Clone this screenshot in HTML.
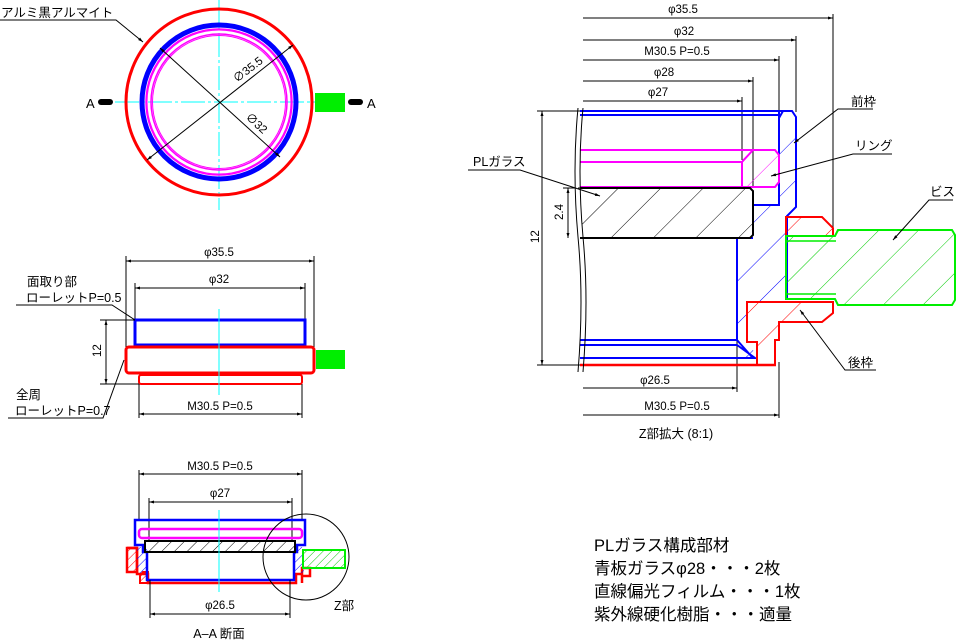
<!DOCTYPE html>
<html><head><meta charset="utf-8"><style>
html,body{margin:0;padding:0;background:#fff;width:960px;height:643px;overflow:hidden}
svg{display:block}
text{font-family:"Liberation Sans","Noto Sans CJK JP",sans-serif;fill:#000}
.d{font-size:11.5px}
.j{font-size:12.5px}
</style></head><body>
<svg width="960" height="643" viewBox="0 0 960 643" xmlns="http://www.w3.org/2000/svg">
<defs>
<marker id="ar" viewBox="0 0 10 10" refX="10" refY="5" markerWidth="8" markerHeight="5" orient="auto-start-reverse"><path d="M0,2 L10,5 L0,8 z" fill="#000"/></marker>
<pattern id="hk" width="9" height="9" patternUnits="userSpaceOnUse" patternTransform="rotate(45)"><line x1="0" y1="0" x2="0" y2="9" stroke="#000" stroke-width="1"/></pattern>
<pattern id="hk2" width="30" height="30" patternUnits="userSpaceOnUse" patternTransform="rotate(45)"><line x1="0" y1="0" x2="0" y2="30" stroke="#000" stroke-width="1"/></pattern>
<pattern id="hb" width="30" height="30" patternUnits="userSpaceOnUse" patternTransform="rotate(45)"><line x1="0" y1="0" x2="0" y2="30" stroke="#00f" stroke-width="1"/></pattern>
<pattern id="hb2" width="6" height="6" patternUnits="userSpaceOnUse" patternTransform="rotate(45)"><line x1="0" y1="0" x2="0" y2="6" stroke="#00f" stroke-width="1"/></pattern>
<pattern id="hr" width="30" height="30" patternUnits="userSpaceOnUse" patternTransform="rotate(45)"><line x1="0" y1="0" x2="0" y2="30" stroke="#f00" stroke-width="1"/></pattern>
<pattern id="hr2" width="6" height="6" patternUnits="userSpaceOnUse" patternTransform="rotate(45)"><line x1="0" y1="0" x2="0" y2="6" stroke="#f00" stroke-width="1"/></pattern>
<pattern id="hg" width="28" height="28" patternUnits="userSpaceOnUse" patternTransform="rotate(45)"><line x1="0" y1="0" x2="0" y2="28" stroke="#0c0" stroke-width="1"/></pattern>
<pattern id="hg2" width="6" height="6" patternUnits="userSpaceOnUse" patternTransform="rotate(45)"><line x1="0" y1="0" x2="0" y2="6" stroke="#0c0" stroke-width="1"/></pattern>
<pattern id="hm" width="22" height="22" patternUnits="userSpaceOnUse" patternTransform="rotate(45)"><line x1="0" y1="0" x2="0" y2="22" stroke="#f0f" stroke-width="1"/></pattern>
</defs>

<!-- TOP VIEW -->
<line x1="219" y1="0" x2="219" y2="210" stroke="#0ff" stroke-width="1" stroke-dasharray="24,3,3,3"/>
<line x1="115" y1="102" x2="325" y2="102" stroke="#0ff" stroke-width="1" stroke-dasharray="24,3,3,3"/>
<rect x="315" y="93" width="30" height="19" fill="#0e0"/>
<circle cx="219" cy="102" r="93" fill="none" stroke="#f00" stroke-width="3"/>
<circle cx="219" cy="102" r="77" fill="none" stroke="#00f" stroke-width="5"/>
<circle cx="219" cy="102" r="73" fill="none" stroke="#f0f" stroke-width="1.5"/>
<circle cx="219" cy="102" r="72" fill="none" stroke="#f0f" stroke-width="1"/>
<circle cx="219" cy="102" r="68" fill="none" stroke="#f0f" stroke-width="1.5"/>
<circle cx="219" cy="102" r="66.5" fill="none" stroke="#f0f" stroke-width="1"/>
<line x1="147" y1="160" x2="293" y2="45" stroke="#000" stroke-width="1" marker-start="url(#ar)" marker-end="url(#ar)"/>
<line x1="160" y1="48" x2="280" y2="157" stroke="#000" stroke-width="1" marker-start="url(#ar)" marker-end="url(#ar)"/>
<text class="d" transform="translate(237,83) rotate(-38)">∅35.5</text>
<text class="d" transform="translate(245,118) rotate(42)">∅32</text>
<rect x="98" y="99" width="15" height="6" rx="3" fill="#000"/>
<rect x="348" y="99" width="15" height="6" rx="3" fill="#000"/>
<text x="86" y="108" style="font-size:13px">A</text>
<text x="367" y="108" style="font-size:13px">A</text>
<text x="1" y="17" class="j">アルミ黒アルマイト</text>
<polyline points="0,20 116,20 143,42" fill="none" stroke="#000" stroke-width="1" marker-end="url(#ar)"/>

<!-- SIDE VIEW -->
<line x1="126" y1="256" x2="126" y2="347" stroke="#000"/>
<line x1="314" y1="256" x2="314" y2="347" stroke="#000"/>
<line x1="126" y1="261" x2="314" y2="261" stroke="#000" marker-start="url(#ar)" marker-end="url(#ar)"/>
<text x="219" y="256" class="d" text-anchor="middle">φ35.5</text>
<line x1="135" y1="283" x2="135" y2="320" stroke="#000"/>
<line x1="305" y1="283" x2="305" y2="320" stroke="#000"/>
<line x1="135" y1="288" x2="305" y2="288" stroke="#000" marker-start="url(#ar)" marker-end="url(#ar)"/>
<text x="219" y="283" class="d" text-anchor="middle">φ32</text>
<rect x="135" y="320" width="170" height="25" fill="none" stroke="#00f" stroke-width="3"/>
<rect x="126" y="347" width="188" height="26" rx="3" fill="none" stroke="#f00" stroke-width="3"/>
<rect x="139" y="375" width="163" height="9" rx="2" fill="none" stroke="#f00" stroke-width="2"/>
<rect x="316" y="350" width="29" height="19" fill="#0e0"/>
<line x1="219" y1="309" x2="219" y2="395" stroke="#0ff"/>
<line x1="100" y1="320" x2="135" y2="320" stroke="#000"/>
<line x1="100" y1="384" x2="139" y2="384" stroke="#000"/>
<line x1="106" y1="320" x2="106" y2="384" stroke="#000" marker-start="url(#ar)" marker-end="url(#ar)"/>
<text class="d" transform="translate(101,357) rotate(-90)">12</text>
<line x1="139" y1="384" x2="139" y2="418" stroke="#000"/>
<line x1="302" y1="384" x2="302" y2="418" stroke="#000"/>
<line x1="139" y1="414" x2="302" y2="414" stroke="#000" marker-start="url(#ar)" marker-end="url(#ar)"/>
<text x="220" y="410" class="d" text-anchor="middle">M30.5  P=0.5</text>
<text x="27" y="286" class="j">面取り部</text>
<text x="26" y="302" class="j">ローレットP=0.5</text>
<polyline points="16,305 112,305 135,320" fill="none" stroke="#000"/>
<text x="16" y="399" class="j">全周</text>
<text x="15" y="415" class="j">ローレットP=0.7</text>
<polyline points="8,418 103,418 124,360" fill="none" stroke="#000"/>

<!-- A-A SECTION -->
<line x1="139" y1="470" x2="139" y2="520" stroke="#000"/>
<line x1="302" y1="470" x2="302" y2="520" stroke="#000"/>
<line x1="139" y1="474" x2="302" y2="474" stroke="#000" marker-start="url(#ar)" marker-end="url(#ar)"/>
<text x="220" y="470" class="d" text-anchor="middle">M30.5  P=0.5</text>
<line x1="149" y1="498" x2="149" y2="540" stroke="#000"/>
<line x1="292" y1="498" x2="292" y2="540" stroke="#000"/>
<line x1="149" y1="502" x2="292" y2="502" stroke="#000" marker-start="url(#ar)" marker-end="url(#ar)"/>
<text x="220" y="497" class="d" text-anchor="middle">φ27</text>
<path d="M127,548 H137 V574 H148 V583 H296 V574 H302 V568 H310 V576 H302 V583" fill="none" stroke="#f00" stroke-width="2.5"/>
<path d="M127,548 H137 V572 H127 Z" fill="url(#hr2)" stroke="#f00" stroke-width="2.5"/>
<path d="M143,572 H148 V583 H140 V576 Z" fill="url(#hr2)" stroke="#f00" stroke-width="2"/>
<path d="M135,520 H305 V545 H297 V552 H294 V580 H147 V552 H143 V545 H135 Z" fill="none" stroke="#00f" stroke-width="2.5"/>
<rect x="137" y="547" width="10" height="26" fill="url(#hb2)"/>
<rect x="294" y="547" width="10" height="26" fill="url(#hb2)"/>
<rect x="139" y="529" width="163" height="9" rx="3" fill="none" stroke="#f0f" stroke-width="2.5"/>
<rect x="141" y="530" width="8" height="7" fill="url(#hm)"/>
<rect x="293" y="530" width="8" height="7" fill="url(#hm)"/>
<rect x="145" y="541" width="150" height="11" fill="url(#hk)" stroke="#000" stroke-width="2"/>
<rect x="303" y="550" width="42" height="18" fill="url(#hg2)" stroke="#0e0" stroke-width="2"/>
<line x1="219" y1="510" x2="219" y2="592" stroke="#0ff"/>
<circle cx="306" cy="557" r="43" fill="none" stroke="#000"/>
<line x1="150" y1="580" x2="150" y2="618" stroke="#000"/>
<line x1="290" y1="580" x2="290" y2="618" stroke="#000"/>
<line x1="150" y1="614" x2="290" y2="614" stroke="#000" marker-start="url(#ar)" marker-end="url(#ar)"/>
<text x="220" y="609" class="d" text-anchor="middle">φ26.5</text>
<text x="334" y="610" class="j">Z部</text>
<text x="219" y="638" class="j" text-anchor="middle">A–A 断面</text>

<!-- Z DETAIL -->
<g stroke="#000" stroke-width="1">
<line x1="583" y1="18" x2="833" y2="18" marker-end="url(#ar)"/><line x1="833" y1="14" x2="833" y2="228"/>
<line x1="583" y1="40" x2="796" y2="40" marker-end="url(#ar)"/><line x1="796" y1="36" x2="796" y2="112"/>
<line x1="583" y1="60" x2="779" y2="60" marker-end="url(#ar)"/><line x1="779" y1="56" x2="779" y2="112"/>
<line x1="583" y1="81" x2="753" y2="81" marker-end="url(#ar)"/><line x1="753" y1="77" x2="753" y2="188"/>
<line x1="583" y1="101" x2="742" y2="101" marker-end="url(#ar)"/><line x1="742" y1="97" x2="742" y2="160"/>
<line x1="583" y1="388" x2="737" y2="388" marker-end="url(#ar)"/><line x1="737" y1="340" x2="737" y2="392"/>
<line x1="583" y1="415" x2="779" y2="415" marker-end="url(#ar)"/><line x1="779" y1="362" x2="779" y2="418"/>
<line x1="537" y1="111" x2="580" y2="111"/><line x1="537" y1="365" x2="580" y2="365"/>
<line x1="542" y1="111" x2="542" y2="365" marker-start="url(#ar)" marker-end="url(#ar)"/>
<line x1="563" y1="188" x2="580" y2="188"/>
<line x1="568" y1="188" x2="568" y2="238" marker-start="url(#ar)" marker-end="url(#ar)"/>
</g>
<text x="683" y="13" class="d" text-anchor="middle">φ35.5</text>
<text x="684" y="35" class="d" text-anchor="middle">φ32</text>
<text x="677" y="55" class="d" text-anchor="middle">M30.5  P=0.5</text>
<text x="664" y="76" class="d" text-anchor="middle">φ28</text>
<text x="658" y="96" class="d" text-anchor="middle">φ27</text>
<text x="655" y="384" class="d" text-anchor="middle">φ26.5</text>
<text x="677" y="410" class="d" text-anchor="middle">M30.5  P=0.5</text>
<text x="676" y="438" class="j" text-anchor="middle">Z部拡大 (8:1)</text>
<text class="d" transform="translate(539,243) rotate(-90)">12</text>
<text class="d" transform="translate(563,220) rotate(-90)">2.4</text>

<path d="M737,238 L753,238 L753,205 L779,205 L779,118 L783,111 L792,111 L796,117 L796,207 L787,217 L787,302 L747,302 L747,338 L757,358 L737,358 Z" fill="url(#hb)" stroke="none"/>
<path d="M580,111 H792 L796,117 V207 L787,216 V298 M779,112 V205 H753 M779,118 L783,111 M737,238 V340 L752,357 M580,115 H779 M580,340 H737 M580,345 H737 L755,358 H580 M753,238 H737" fill="none" stroke="#00f" stroke-width="2"/>
<path d="M742,150 H775 L779,155 V182 L775,187 H742 Z" fill="url(#hm)"/>
<path d="M580,150 H775 L779,155 V182 L775,187 H580 M580,162 H742 V187 M742,162 L753,150" fill="none" stroke="#f0f" stroke-width="2"/>
<rect x="582" y="188" width="171" height="50" fill="url(#hk2)"/>
<path d="M580,188 H750 L753,191 V235 L750,238 H580" fill="none" stroke="#000" stroke-width="2"/>
<path d="M786,217 H822 L833,228 V236 H786 Z" fill="url(#hr)" stroke="#f00" stroke-width="2"/>
<path d="M747,302 H833 V313 L822,322 H779 V340 H775 V365 H757 V342 H747 Z" fill="url(#hr)" stroke="#f00" stroke-width="2"/>
<line x1="580" y1="365" x2="776" y2="365" stroke="#f00" stroke-width="2.5"/>
<path d="M786,236 H835 L838,230 H952 L955,235 V300 L952,305 H838 L835,299 H786 Z" fill="url(#hg)" stroke="#0e0" stroke-width="2"/>
<path d="M786,241 H836 M786,294 H836" stroke="#0e0" stroke-width="1.5"/>
<path d="M578,108 Q572,170 578,237 Q584,300 578,372" fill="#fff" stroke="#000" stroke-width="1"/>
<path d="M583,108 Q577,170 583,237 Q589,300 583,372" fill="none" stroke="#000" stroke-width="1"/>
<text x="851" y="106" class="j">前枠</text>
<polyline points="873,109 838,109 794,143" fill="none" stroke="#000" marker-end="url(#ar)"/>
<text x="855" y="150" class="j">リング</text>
<polyline points="892,154 853,154 771,176" fill="none" stroke="#000" marker-end="url(#ar)"/>
<text x="473" y="166" class="j">PLガラス</text>
<polyline points="468,170 520,170 600,196" fill="none" stroke="#000" marker-end="url(#ar)"/>
<text x="930" y="196" class="j">ビス</text>
<polyline points="953,200 929,200 893,240" fill="none" stroke="#000" marker-end="url(#ar)"/>
<text x="848" y="367" class="j">後枠</text>
<polyline points="876,370 845,370 800,310" fill="none" stroke="#000" marker-end="url(#ar)"/>

<g style="font-size:16.5px">
<text x="594" y="551">PLガラス構成部材</text>
<text x="594" y="574">青板ガラスφ28・・・2枚</text>
<text x="594" y="597">直線偏光フィルム・・・1枚</text>
<text x="594" y="620">紫外線硬化樹脂・・・適量</text>
</g>
</svg>
</body></html>
